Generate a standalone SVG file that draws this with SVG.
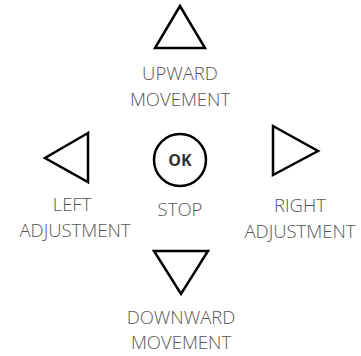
<svg xmlns="http://www.w3.org/2000/svg" width="361" height="356" viewBox="0 0 361 356">
<style>
.tri{fill:none;stroke:#000;stroke-width:2.5;stroke-linejoin:miter}
.lbl{font-family:"Open Sans","Liberation Sans",sans-serif;font-weight:300;font-size:18.5px;fill:#555;text-anchor:middle}
.ok{font-family:"Open Sans","Liberation Sans",sans-serif;font-weight:700;font-size:16px;fill:#333;text-anchor:middle}
</style>
<rect width="361" height="356" fill="#fff"/>
<g id="up">
<polygon class="tri" points="180,6 155,48 205,48"/>
<text class="lbl" x="180" y="80">UPWARD</text>
<text class="lbl" x="180" y="105.5">MOVEMENT</text>
</g>
<g id="left">
<polygon class="tri" points="88,133 45,158 88,182"/>
<text class="lbl" x="72" y="211">LEFT</text>
<text class="lbl" x="75" y="236.5">ADJUSTMENT</text>
</g>
<g id="stop">
<circle cx="180" cy="160" r="26" fill="none" stroke="#000" stroke-width="2.5"/>
<text class="ok" x="180" y="166">OK</text>
<text class="lbl" x="180" y="216">STOP</text>
</g>
<g id="right">
<polygon class="tri" points="273,126 318,151 273,175"/>
<text class="lbl" x="300" y="212">RIGHT</text>
<text class="lbl" x="300" y="237.5">ADJUSTMENT</text>
</g>
<g id="down">
<polygon class="tri" points="154,251 208,251 181,294"/>
<text class="lbl" x="181" y="323.5">DOWNWARD</text>
<text class="lbl" x="181" y="349">MOVEMENT</text>
</g>
<g id="connectors"/>
</svg>
